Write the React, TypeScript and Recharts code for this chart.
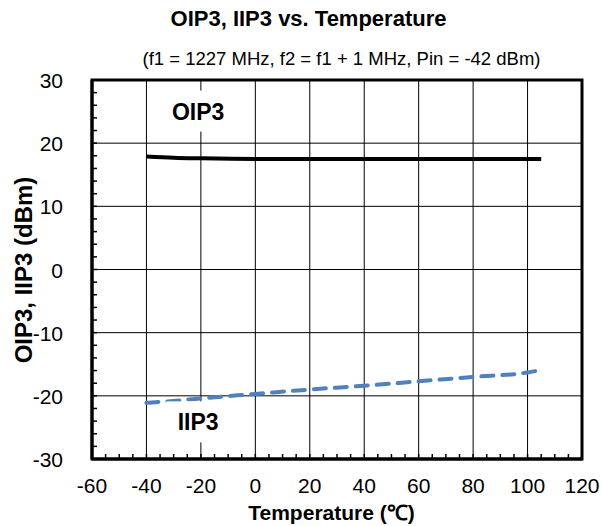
import React from 'react';
import { LineChart, Line, XAxis, YAxis, CartesianGrid, ReferenceArea, ReferenceDot } from 'recharts';

const temps = [-40, -30, -20, 0, 20, 40, 60, 80, 100, 105];
const oip3 = [17.9, 17.7, 17.6, 17.5, 17.5, 17.5, 17.5, 17.5, 17.5, 17.5];
const iip3 = [-21.1, -20.8, -20.4, -19.7, -19.0, -18.4, -17.7, -17.0, -16.3, -15.9];

const xMajor = [-60, -40, -20, 0, 20, 40, 60, 80, 100, 120];
const yMajor = [-30, -20, -10, 0, 10, 20, 30];

const xTicks: number[] = [];
for (let v = -60; v <= 120; v += 5) xTicks.push(v);
const yTicks: number[] = [];
for (let v = -30; v <= 30; v += 2) yTicks.push(v);

const data = temps.map((t, i) => ({ t, oip3: oip3[i], iip3: iip3[i] }));

const FONT = '"Liberation Sans", Arial, sans-serif';

const XTick = (props: any) => {
  const { x, y, payload } = props;
  const major = xMajor.includes(payload.value);
  return (
    <g>
      <line x1={x} x2={x} y1={y} y2={y - 5} stroke="#000" strokeWidth={1.5} />
      {major && (
        <text x={x} y={y + 34} textAnchor="middle" fontSize={21} fontFamily={FONT} fill="#000">
          {payload.value}
        </text>
      )}
    </g>
  );
};

const YTick = (props: any) => {
  const { x, y, payload } = props;
  const major = yMajor.includes(payload.value);
  return (
    <g>
      <line x1={x} x2={x + 5} y1={y} y2={y} stroke="#000" strokeWidth={1.5} />
      {major && (
        <text x={x - 29} y={y + 8} textAnchor="end" fontSize={21} fontFamily={FONT} fill="#000">
          {payload.value}
        </text>
      )}
    </g>
  );
};

const boxLabel = (text: string) => (props: any) => {
  const { cx, cy } = props;
  return (
    <g>
      <rect x={cx - 32} y={cy - 21} width={64} height={41} fill="#fff" />
      <text x={cx} y={cy + 8} textAnchor="middle" fontSize={23} fontWeight="bold" fontFamily={FONT} fill="#000">
        {text}
      </text>
    </g>
  );
};

export default function App() {
  return (
    <div style={{ position: 'absolute', left: 0, top: 0, width: 603, height: 526, background: '#fff', fontFamily: FONT }}>
      <div style={{ position: 'absolute', left: 7, width: 603, top: 6, textAlign: 'center', fontSize: 22, fontWeight: 'bold' }}>
        OIP3, IIP3 vs. Temperature
      </div>
      <div style={{ position: 'absolute', left: 40, width: 603, top: 48, textAlign: 'center', fontSize: 18.5 }}>
        (f1 = 1227 MHz, f2 = f1 + 1 MHz, Pin = -42 dBm)
      </div>
      <LineChart width={603} height={526} data={data} margin={{ top: 80, right: 21, bottom: 37, left: 62 }}>
        <CartesianGrid stroke="#000" strokeWidth={1} horizontalValues={yMajor} verticalValues={xMajor} />
        <XAxis
          type="number"
          dataKey="t"
          domain={[-60, 120]}
          ticks={xTicks}
          interval={0}
          tick={<XTick />}
          tickLine={false}
          tickSize={0}
          tickMargin={0}
          height={30}
          axisLine={{ stroke: '#000', strokeWidth: 3 }}
        />
        <YAxis
          type="number"
          domain={[-30, 30]}
          ticks={yTicks}
          interval={0}
          tick={<YTick />}
          tickLine={false}
          tickSize={0}
          tickMargin={0}
          width={30}
          axisLine={{ stroke: '#000', strokeWidth: 3 }}
        />
        <ReferenceArea x1={-60} x2={120} y1={-30} y2={30} fill="none" stroke="#000" strokeWidth={3} fillOpacity={0} />
        <ReferenceDot x={-21} y={25} r={0} shape={boxLabel('OIP3')} />
        <ReferenceDot x={-21} y={-24.2} r={0} shape={boxLabel('IIP3')} />
        <Line type="monotone" dataKey="oip3" stroke="#000" strokeWidth={4} dot={false} isAnimationActive={false} />
        <Line
          type="monotone"
          dataKey="iip3"
          stroke="#4f81bd"
          strokeWidth={4}
          strokeDasharray="12 9"
          strokeLinecap="round"
          dot={false}
          isAnimationActive={false}
        />
      </LineChart>
      <div
        style={{
          position: 'absolute',
          left: 24,
          top: 270,
          transform: 'translate(-50%, -50%) rotate(-90deg)',
          whiteSpace: 'nowrap',
          fontSize: 24,
          fontWeight: 'bold',
        }}
      >
        OIP3, IIP3 (dBm)
      </div>
      <div style={{ position: 'absolute', left: 30, width: 603, top: 501, textAlign: 'center', fontSize: 21, fontWeight: 'bold', lineHeight: '24px' }}>
        Temperature (℃)
      </div>
    </div>
  );
}
